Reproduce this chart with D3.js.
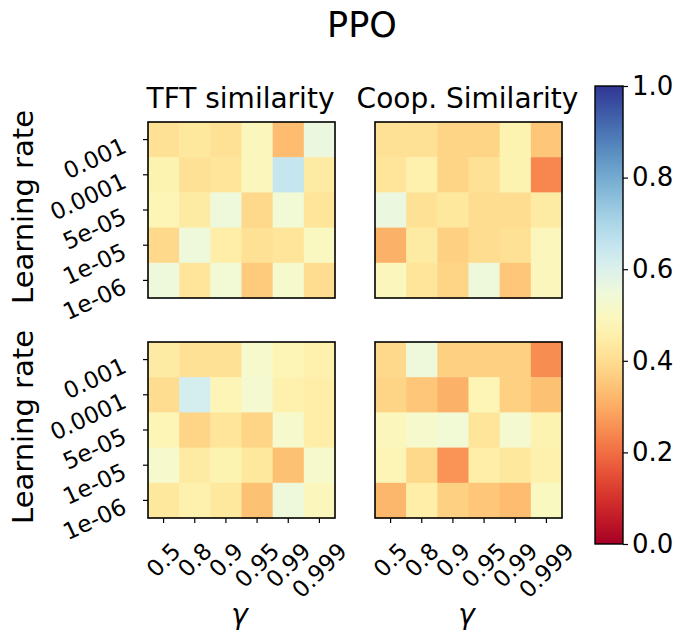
<!DOCTYPE html>
<html>
<head>
<meta charset="utf-8">
<script src="https://cdn.jsdelivr.net/npm/d3@7"></script>
<style>
  body { margin: 0; background: #fff; }
  text { font-family: "DejaVu Sans", sans-serif; fill: #000; }
</style>
</head>
<body>
<div id="chart"></div>
<script>
// data: rows are learning rates (top to bottom), columns are gamma values
let gammas = ["0.5", "0.8", "0.9", "0.95", "0.99", "0.999"];
let rates = ["0.001", "0.0001", "5e-05", "1e-05", "1e-06"];
let colTitles = ["TFT similarity", "Coop. Similarity"];
let cbTicks = [0, 0.2, 0.4, 0.6, 0.8, 1.0];

let tftTop = [
  [0.41, 0.43, 0.41, 0.49, 0.33, 0.56],
  [0.47, 0.41, 0.42, 0.49, 0.65, 0.44],
  [0.48, 0.44, 0.55, 0.39, 0.54, 0.42],
  [0.39, 0.55, 0.45, 0.41, 0.42, 0.50],
  [0.55, 0.42, 0.54, 0.36, 0.52, 0.40]
];
let coopTop = [
  [0.41, 0.41, 0.38, 0.38, 0.47, 0.35],
  [0.42, 0.46, 0.38, 0.41, 0.47, 0.24],
  [0.56, 0.41, 0.43, 0.40, 0.40, 0.44],
  [0.31, 0.44, 0.37, 0.40, 0.41, 0.49],
  [0.49, 0.42, 0.38, 0.55, 0.35, 0.49]
];
let tftBottom = [
  [0.44, 0.41, 0.41, 0.52, 0.48, 0.46],
  [0.40, 0.62, 0.48, 0.53, 0.46, 0.45],
  [0.48, 0.38, 0.42, 0.38, 0.52, 0.45],
  [0.52, 0.44, 0.47, 0.43, 0.34, 0.52],
  [0.43, 0.46, 0.43, 0.34, 0.55, 0.49]
];
let coopBottom = [
  [0.39, 0.55, 0.37, 0.37, 0.37, 0.25],
  [0.38, 0.35, 0.31, 0.48, 0.37, 0.34],
  [0.49, 0.52, 0.54, 0.42, 0.53, 0.47],
  [0.48, 0.39, 0.26, 0.45, 0.43, 0.46],
  [0.32, 0.45, 0.37, 0.35, 0.33, 0.50]
];

let W = 683, H = 636;
let pw = 187, ph = 176;
let lefts = [148, 375], tops = [122, 342];
let tickFont = 23;

let color = d3.scaleSequential(d3.interpolateRdYlBu).domain([0, 1]);

let svg = d3.select("#chart").append("svg")
    .attr("width", W).attr("height", H);

// title
svg.append("text")
    .attr("x", 362).attr("y", 37)
    .attr("text-anchor", "middle")
    .style("font-size", "35px")
    .text("PPO");

let x = d3.scaleBand().domain(gammas).range([0, pw]);
let y = d3.scaleBand().domain(rates).range([0, ph]);

let panels = [
  {data: tftTop, r: 0, c: 0},
  {data: coopTop, r: 0, c: 1},
  {data: tftBottom, r: 1, c: 0},
  {data: coopBottom, r: 1, c: 1}
];

panels.forEach(function(p) {
  let g = svg.append("g")
      .attr("transform", `translate(${lefts[p.c]},${tops[p.r]})`);

  let cells = [];
  p.data.forEach(function(row, i) {
    row.forEach(function(v, j) {
      cells.push({rate: rates[i], gamma: gammas[j], v: v});
    });
  });

  g.selectAll("rect.cell")
    .data(cells)
    .enter().append("rect")
    .attr("class", "cell")
    .attr("x", d => x(d.gamma))
    .attr("y", d => y(d.rate))
    .attr("width", x.bandwidth() + 0.5)
    .attr("height", y.bandwidth() + 0.5)
    .attr("fill", d => color(d.v));

  g.append("rect")
    .attr("width", pw).attr("height", ph)
    .attr("fill", "none").attr("stroke", "#000").attr("stroke-width", 1.6);

  // y axis on left panels
  if (p.c === 0) {
    let ya = g.append("g").call(d3.axisLeft(y).tickSize(5).tickSizeOuter(0));
    ya.select(".domain").remove();
    ya.selectAll("line").attr("stroke", "#000").attr("stroke-width", 1.2);
    ya.selectAll("text")
      .style("font-size", tickFont + "px")
      .attr("x", -20).attr("y", 12).attr("dy", 0)
      .attr("text-anchor", "end")
      .attr("transform", "rotate(-25,-20,12)");
  }

  // x axis on bottom panels, labels rotated 45 and centred under the tick
  if (p.r === 1) {
    let xa = g.append("g")
      .attr("transform", `translate(0,${ph})`)
      .call(d3.axisBottom(x).tickSize(5).tickSizeOuter(0));
    xa.select(".domain").remove();
    xa.selectAll("line").attr("stroke", "#000").attr("stroke-width", 1.2);
    xa.selectAll("text")
      .style("font-size", tickFont + "px")
      .attr("text-anchor", "middle")
      .attr("dy", 0)
      .attr("dominant-baseline", "central")
      .each(function() {
        let w = this.getComputedTextLength();
        let cy = 24 + (w + 0.62 * tickFont) / (2 * Math.SQRT2);
        d3.select(this).attr("x", 0).attr("y", cy)
          .attr("transform", `rotate(-45,0,${cy})`);
      });
    svg.append("text")
      .attr("x", lefts[p.c] + pw / 2 - 2).attr("y", 624)
      .attr("text-anchor", "middle")
      .style("font-size", "28px").style("font-style", "italic")
      .text("γ");
  }

  if (p.r === 0) {
    svg.append("text")
      .attr("x", lefts[p.c] + pw / 2 - 1).attr("y", 108)
      .attr("text-anchor", "middle")
      .style("font-size", "28px")
      .text(colTitles[p.c]);
  }

  if (p.c === 0) {
    svg.append("text")
      .attr("transform", `translate(33,${tops[p.r] + ph / 2 - 3})rotate(-90)`)
      .attr("text-anchor", "middle")
      .style("font-size", "29px")
      .text("Learning rate");
  }
});

// colorbar
let cbX = 595, cbW = 28, cbTop = 86, cbBot = 544;
let cy = d3.scaleLinear().domain([0, 1]).range([cbBot, cbTop]);

let defs = svg.append("defs");
let grad = defs.append("linearGradient")
    .attr("id", "cbgrad")
    .attr("x1", "0").attr("y1", "1").attr("x2", "0").attr("y2", "0");
d3.range(0, 1.0001, 0.05).forEach(function(t) {
  grad.append("stop").attr("offset", t).attr("stop-color", color(t));
});
svg.append("rect")
    .attr("x", cbX).attr("y", cbTop)
    .attr("width", cbW).attr("height", cbBot - cbTop)
    .attr("fill", "url(#cbgrad)")
    .attr("stroke", "#000").attr("stroke-width", 1.4);

let cba = svg.append("g")
    .attr("transform", `translate(${cbX + cbW},0)`)
    .call(d3.axisRight(cy).tickValues(cbTicks).tickFormat(d3.format(".1f")).tickSize(5));
cba.select(".domain").remove();
cba.selectAll("line").attr("stroke", "#000").attr("stroke-width", 1.2);
cba.selectAll("text").style("font-size", "26px").attr("x", 9);
</script>
</body>
</html>
